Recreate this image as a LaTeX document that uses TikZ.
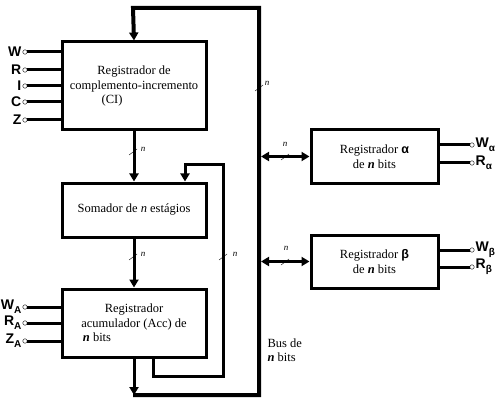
\documentclass[tikz,border=0pt]{standalone}
\usepackage{fontspec}
\setmainfont{Liberation Serif}
\newfontfamily\lblfont{Liberation Sans}
\usetikzlibrary{arrows.meta}
\newcommand{\lowsub}[1]{\raisebox{-0.5ex}{\fontsize{10}{10}\selectfont #1}}

\begin{document}
\begin{tikzpicture}[x=1pt,y=-1pt,
  reg/.style={draw,line width=3pt,minimum width=144pt,align=center,font=\fontsize{12.5}{14.5}\selectfont},
  link/.style={line width=3pt},
  bus/.style={line width=4pt},
  arr/.style={-{Triangle[length=8pt,width=9pt]}},
  biarr/.style={{Triangle[length=8pt,width=9pt]}-{Triangle[length=8pt,width=9pt]}},
  term/.style={circle,draw,thin,fill=white,inner sep=0pt,minimum size=4.5pt},
  lbl/.style={font=\lblfont\bfseries\fontsize{14}{14}\selectfont,inner sep=1pt},
  tick/.style={font=\fontsize{9}{9}\selectfont\itshape,inner sep=0pt}]
\useasboundingbox (0,0) rectangle (500,406);

\node[reg,minimum height=88pt] (ci) at (134,86) {Registrador de\\complemento-incremento\\(CI)\hspace*{44pt}};
\node[reg,minimum height=54pt] (som) at (134,210) {Somador de \textit{n} estágios};
\node[reg,minimum height=68pt] (acc) at (134,323) {Registrador\\acumulador (Acc) de\\\textbf{\textit{n}} bits\hspace*{74pt}};
\node[reg,minimum width=127pt,minimum height=53pt] (ra) at (374.5,156.5) {Registrador {\lblfont\bfseries α}\\de \textbf{\textit{n}} bits};
\node[reg,minimum width=127pt,minimum height=53pt] (rb) at (374.5,261.5) {Registrador {\lblfont\bfseries β}\\de \textbf{\textit{n}} bits};
\node[align=left,anchor=west,font=\fontsize{12.5}{14.5}\selectfont] (buslbl) at (264,350) {Bus de\\\textbf{\textit{n}} bits};

\coordinate (tl) at (133,8);
\coordinate (tr) at (259,8);
\coordinate (br) at (259,395);
\coordinate (bl) at (133,395);
\draw[bus,arr] (bl) -- (br) -- (tr) -- (tl) -- (ci.north);
\draw[link,arr] (acc.south) -- (acc.south |- bl);

\draw[link,arr] (ci.south) -- (som.north);
\draw[link,arr] (som.south) -- (acc.north);

\coordinate (f1) at (153,376);
\coordinate (f2) at (223,376);
\coordinate (f3) at (223,165);
\coordinate (f4) at (185,165);
\draw[link,arr] (f1 |- acc.south) -- (f1) -- (f2) -- (f3) -- (f4) -- (f4 |- som.north);

\coordinate (bj) at (261,0);
\draw[link,biarr] (bj |- ra.west) -- (ra.west);
\draw[link,biarr] (bj |- rb.west) -- (rb.west);

\foreach \x/\y/\lx/\ly in {259/88/267/83, 133/152/143/149, 133/257/143/254,
  223/257/235/254, 285/157/285/144, 285/262/286/248} {
  \draw[thin] (\x-4,\y+3) -- (\x+4,\y-3);
  \node[tick] at (\lx,\ly) {n};
}

\foreach \l/\y in {W/52,R/70,I/86,C/102,Z/120} {
  \node[term] (t\l) at (25,\y) {};
  \node[lbl,left] at (t\l.west) {\l};
  \draw[link] (t\l.east) -- (t\l -| ci.west);
}
\foreach \l/\y in {W/307,R/323,Z/341} {
  \node[term] (a\l) at (25,\y) {};
  \node[lbl,left] at (a\l.west) {\l\lowsub{A}};
  \draw[link] (a\l.east) -- (a\l -| acc.west);
}
\foreach \b/\g/\yw/\yr in {ra/α/145/163, rb/β/250/267} {
  \node[term] (w\b) at (472,\yw) {};
  \node[term] (r\b) at (472,\yr) {};
  \node[lbl,right] at (w\b.east) {W\lowsub{\g}};
  \node[lbl,right] at (r\b.east) {R\lowsub{\g}};
  \draw[link] (w\b -| \b.east) -- (w\b.west);
  \draw[link] (r\b -| \b.east) -- (r\b.west);
}
\end{tikzpicture}
\end{document}
